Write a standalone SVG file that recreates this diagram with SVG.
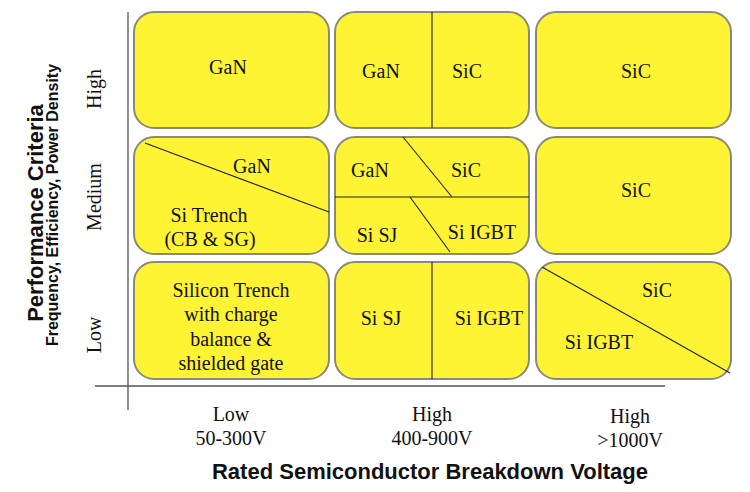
<svg xmlns="http://www.w3.org/2000/svg" width="750" height="492" viewBox="0 0 750 492">
<style>
.box{fill:#FFF433;stroke:#8a8a7a;stroke-width:2}
.div{stroke:#222;stroke-width:1.1;fill:none}
.axis{stroke:#555;stroke-width:1.3;fill:none}
.t{font-family:"Liberation Serif","Times New Roman",serif;font-size:20px;fill:#111;text-anchor:middle}
.b{font-family:"Liberation Sans",Arial,sans-serif;font-weight:bold;fill:#111;text-anchor:middle}
</style>
<rect width="750" height="492" fill="#fff"/>
<g id="axes">
<line class="axis" x1="128" y1="12" x2="128" y2="410"/>
<line class="axis" x1="95" y1="386" x2="665" y2="386"/>
</g>
<g id="axis-labels">
<text class="b" font-size="22" transform="translate(43,213) rotate(-90)">Performance Criteria</text>
<text class="b" font-size="16" transform="translate(58,205) rotate(-90)">Frequency, Efficiency, Power Density</text>
<text class="t" transform="translate(101,89) rotate(-90)">High</text>
<text class="t" transform="translate(101,197) rotate(-90)">Medium</text>
<text class="t" transform="translate(101,335) rotate(-90)">Low</text>
<text class="t" x="231" y="421">Low</text>
<text class="t" x="231" y="445">50-300V</text>
<text class="t" x="432" y="421">High</text>
<text class="t" x="432" y="445">400-900V</text>
<text class="t" x="630" y="423">High</text>
<text class="t" x="630" y="447">&gt;1000V</text>
<text class="b" font-size="22" x="430" y="479">Rated Semiconductor Breakdown Voltage</text>
</g>
<g id="r1c1">
<rect class="box" x="134" y="12" width="195" height="116" rx="20"/>
<text class="t" x="228" y="74">GaN</text>
</g>
<g id="r1c2">
<rect class="box" x="335" y="12" width="194" height="116" rx="20"/>
<text class="t" x="381" y="78">GaN</text>
<text class="t" x="467" y="78">SiC</text>
</g>
<g id="r1c3">
<rect class="box" x="536" y="12" width="195" height="116" rx="20"/>
<text class="t" x="636" y="78">SiC</text>
</g>
<g id="r2c1">
<rect class="box" x="134" y="137" width="195" height="117" rx="20"/>
<text class="t" x="252" y="173">GaN</text>
<text class="t" x="209" y="222">Si Trench</text>
<text class="t" x="210" y="246">(CB &amp; SG)</text>
</g>
<g id="r2c2">
<rect class="box" x="335" y="137" width="194" height="117" rx="20"/>
<text class="t" x="370" y="177">GaN</text>
<text class="t" x="466" y="177">SiC</text>
<text class="t" x="377" y="242">Si SJ</text>
<text class="t" x="482" y="239">Si IGBT</text>
</g>
<g id="r2c3">
<rect class="box" x="536" y="137" width="195" height="117" rx="20"/>
<text class="t" x="636" y="197">SiC</text>
</g>
<g id="r3c1">
<rect class="box" x="134" y="262" width="195" height="117" rx="20"/>
<text class="t" x="231" y="297">Silicon Trench</text>
<text class="t" x="231" y="321">with charge</text>
<text class="t" x="231" y="346">balance &amp;</text>
<text class="t" x="231" y="370">shielded gate</text>
</g>
<g id="r3c2">
<rect class="box" x="335" y="262" width="194" height="117" rx="20"/>
<text class="t" x="381" y="325">Si SJ</text>
<text class="t" x="489" y="325">Si IGBT</text>
</g>
<g id="r3c3">
<rect class="box" x="536" y="262" width="195" height="117" rx="20"/>
<text class="t" x="657" y="297">SiC</text>
<text class="t" x="599" y="349">Si IGBT</text>
</g>
<g id="connectors">
<line class="div" x1="432" y1="12" x2="432" y2="128"/>
<line class="div" x1="145" y1="143" x2="329" y2="212"/>
<line class="div" x1="335" y1="197" x2="529" y2="197"/>
<line class="div" x1="403" y1="137" x2="452" y2="197"/>
<line class="div" x1="410" y1="197" x2="450" y2="252"/>
<line class="div" x1="432" y1="262" x2="432" y2="379"/>
<line class="div" x1="542" y1="267" x2="730" y2="373"/>
</g>
</svg>
